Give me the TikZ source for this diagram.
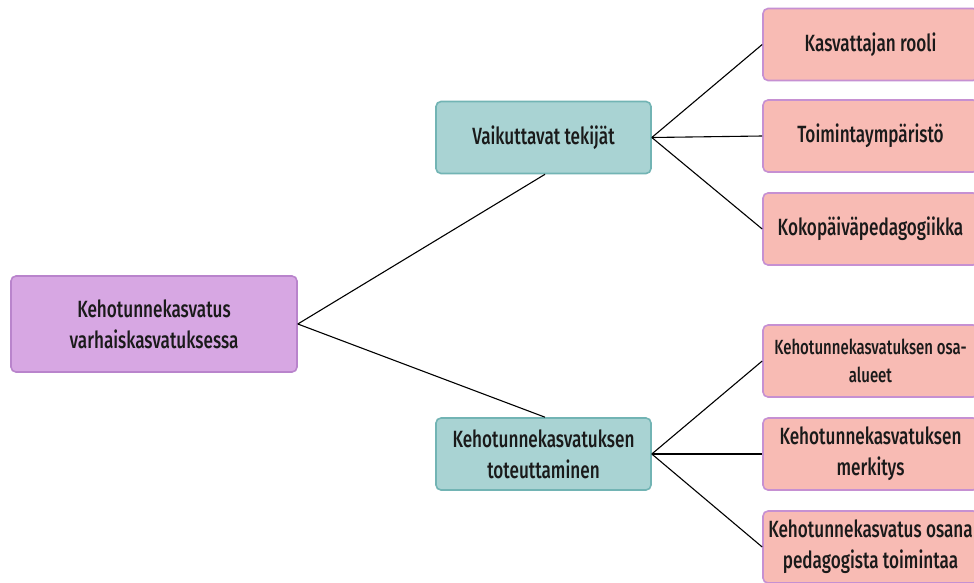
\documentclass[tikz,border=0pt]{standalone}
\usepackage{fontspec}
\setmainfont{Fira Sans}[FakeStretch=0.73, UprightFont={* Medium}]
\definecolor{rootfill}{HTML}{D7A7E3}
\definecolor{rootdraw}{HTML}{B984CC}
\definecolor{tealfill}{HTML}{A9D3D3}
\definecolor{tealdraw}{HTML}{72B4B4}
\definecolor{pinkfill}{HTML}{F8BBB4}
\definecolor{pinkdraw}{HTML}{C690D2}
\definecolor{txt}{HTML}{1A1A1A}
\tikzset{
  x=1pt,y=-1pt,
  box/.style={rounded corners=5pt, line width=1.6pt, align=center, inner sep=0pt,
    text=txt, font=\fontsize{23.5}{31}\selectfont},
  rootbox/.style={box, fill=rootfill, draw=rootdraw, minimum width=286pt, minimum height=96pt},
  midbox/.style={box, fill=tealfill, draw=tealdraw, minimum width=215pt, minimum height=72pt},
  leafbox/.style={box, fill=pinkfill, draw=pinkdraw, minimum width=215pt, minimum height=72pt},
  conn/.style={line width=1.1pt, draw=black}
}
\begin{document}
\begin{tikzpicture}
\useasboundingbox[fill=white] (0,0) rectangle (974,582);
\node[rootbox] (root) at (154,324) {Kehotunnekasvatus\\varhaiskasvatuksessa};
\node[midbox] (vt) at (543.5,137.5) {Vaikuttavat tekijät};
\node[midbox] (kt) at (543.5,454) {Kehotunnekasvatuksen\\toteuttaminen};
\node[leafbox] (l1) at (870.5,44.5) {Kasvattajan rooli};
\node[leafbox] (l2) at (870.5,136) {Toimintaympäristö};
\node[leafbox] (l3) at (870.5,229) {Kokopäiväpedagogiikka};
\node[leafbox, font=\fontsize{20.5}{28}\selectfont] (l4) at (870.5,361) {Kehotunnekasvatuksen osa-\\alueet};
\node[leafbox] (l5) at (870.5,454) {Kehotunnekasvatuksen\\merkitys};
\node[leafbox] (l6) at (870.5,547) {Kehotunnekasvatus osana\\pedagogista toimintaa};
\draw[conn] (root.east) -- ([xshift=1.5pt]vt.south);
\draw[conn] (root.east) -- ([xshift=1.5pt]kt.north);
\draw[conn] (vt.east) -- (l1.west);
\draw[conn] (vt.east) -- (l2.west);
\draw[conn] (vt.east) -- (l3.west);
\draw[conn] (kt.east) -- (l4.west);
\draw[conn] (kt.east) -- (l5.west);
\draw[conn] (kt.east) -- (l6.west);
\end{tikzpicture}
\end{document}
